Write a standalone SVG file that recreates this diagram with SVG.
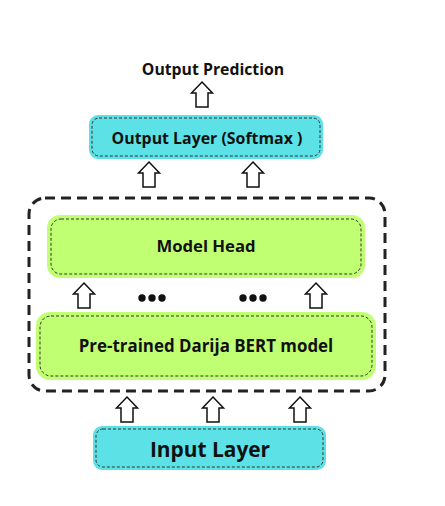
<svg xmlns="http://www.w3.org/2000/svg" width="445" height="506" viewBox="0 0 445 506">
<style>
.t{font-family:"Open Sans","Noto Sans",sans-serif;font-weight:bold;fill:#111;text-anchor:middle}
.cy{fill:#5ce1e6}
.gr{fill:#c1ff72}
.in{fill:none;stroke:#333;stroke-width:1;stroke-dasharray:3,2}
.arr{fill:#fff;stroke:#111;stroke-width:1.5;stroke-linejoin:miter}
.dot{fill:#111}
</style>
<defs>
<path id="a" d="M0,0 L10.5,11 L6,11 L6,25 L-6,25 L-6,11 L-10.5,11 Z"/>
</defs>
<rect width="445" height="506" fill="#fff"/>
<g id="outer">
<rect x="29" y="198" width="356" height="193" rx="16" fill="none" stroke="#222" stroke-width="3" stroke-dasharray="10,6"/>
</g>
<g id="output-prediction">
<text class="t" x="213" y="75" font-size="15.8">Output Prediction</text>
</g>
<g id="output-layer">
<rect class="cy" x="89" y="115" width="234" height="44" rx="9"/>
<rect class="in" x="92" y="118" width="228" height="38" rx="7"/>
<text class="t" x="207" y="144" font-size="15.9">Output Layer (Softmax )</text>
</g>
<g id="model-head">
<rect class="gr" x="47" y="215" width="318" height="63" rx="13"/>
<rect class="in" x="51" y="219" width="310" height="55" rx="10"/>
<text class="t" x="206" y="252" font-size="16.7">Model Head</text>
</g>
<g id="bert">
<rect class="gr" x="36" y="312" width="340" height="68" rx="14"/>
<rect class="in" x="40" y="316" width="332" height="60" rx="11"/>
<text class="t" x="206" y="352" font-size="16.9">Pre-trained Darija BERT model</text>
</g>
<g id="input-layer">
<rect class="cy" x="93" y="426" width="233" height="44" rx="9"/>
<rect class="in" x="96" y="429" width="227" height="38" rx="7"/>
<text class="t" x="210" y="457" font-size="20.9">Input Layer</text>
</g>
<g id="connectors">
<use href="#a" class="arr" x="202" y="82"/>
<use href="#a" class="arr" x="149" y="162"/>
<use href="#a" class="arr" x="253" y="162"/>
<use href="#a" class="arr" x="84" y="283"/>
<use href="#a" class="arr" x="316" y="283"/>
<use href="#a" class="arr" x="127" y="397"/>
<use href="#a" class="arr" x="213" y="397"/>
<use href="#a" class="arr" x="300" y="397"/>
<circle class="dot" cx="142" cy="298" r="3.7"/>
<circle class="dot" cx="152" cy="298" r="3.7"/>
<circle class="dot" cx="162" cy="298" r="3.7"/>
<circle class="dot" cx="243" cy="298" r="3.7"/>
<circle class="dot" cx="253" cy="298" r="3.7"/>
<circle class="dot" cx="263" cy="298" r="3.7"/>
</g>
</svg>
